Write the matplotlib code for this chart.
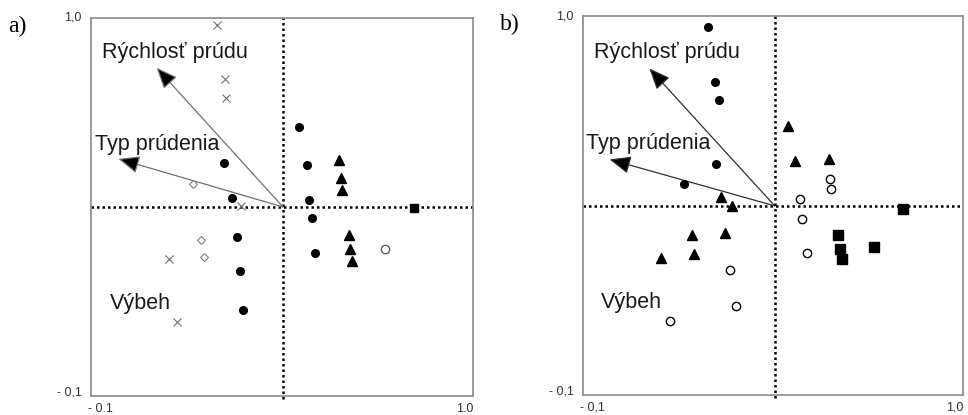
import matplotlib.pyplot as plt
from matplotlib.patches import FancyArrowPatch

# ==============================
# DATA
# ==============================

# panel a)
a_origin = (0.453, 0.450)
a_cross_x = [0.263, 0.286, 0.290, 0.333, 0.124, 0.149]
a_cross_y = [0.978, 0.821, 0.767, 0.453, 0.299, 0.116]
a_diamond_x = [0.195, 0.217, 0.226]
a_diamond_y = [0.516, 0.354, 0.305]
a_dot_x = [0.284, 0.305, 0.320, 0.328, 0.338, 0.498, 0.521, 0.528, 0.537, 0.546]
a_dot_y = [0.578, 0.477, 0.364, 0.263, 0.151, 0.682, 0.571, 0.469, 0.418, 0.315]
a_tri_x = [0.615, 0.620, 0.623, 0.644, 0.647, 0.652]
a_tri_y = [0.588, 0.533, 0.500, 0.368, 0.328, 0.292]
a_ring_x = [0.747]
a_ring_y = [0.329]
a_sq_x = [0.830]
a_sq_y = [0.446]
a_arrow_x = [0.089, -0.021]
a_arrow_y = [0.855, 0.590]

# panel b)
b_origin = (0.455, 0.449)
b_dot_x = [0.262, 0.283, 0.293, 0.284, 0.193]
b_dot_y = [0.967, 0.809, 0.756, 0.572, 0.514]
b_tri_x = [0.494, 0.513, 0.612, 0.298, 0.332, 0.215, 0.312, 0.221, 0.126]
b_tri_y = [0.682, 0.578, 0.584, 0.476, 0.450, 0.364, 0.371, 0.309, 0.299]
b_ring_x = [0.615, 0.618, 0.529, 0.535, 0.547, 0.325, 0.343, 0.151]
b_ring_y = [0.528, 0.499, 0.468, 0.410, 0.313, 0.263, 0.159, 0.116]
b_sq_x = [0.826, 0.638, 0.645, 0.649, 0.743]
b_sq_y = [0.441, 0.364, 0.324, 0.295, 0.330]
b_arrow_x = [0.092, -0.023]
b_arrow_y = [0.848, 0.584]

# labels of the environmental variables
var_names = ["Rýchlosť prúdu", "Typ prúdenia", "Výbeh"]
a_name_x = [-0.069, -0.088, -0.045]
a_name_y = [0.898, 0.632, 0.170]
b_name_x = [-0.069, -0.090, -0.048]
b_name_y = [0.894, 0.631, 0.168]

a_ticks = ["- 0.1", "1.0", "- 0,1", "1,0"]
b_ticks = ["- 0,1", "1,0", "- 0,1", "1,0"]

plt.rcParams['font.family'] = ['Liberation Sans', 'DejaVu Sans']

fig = plt.figure(figsize=(9.68, 4.15), dpi=100)
ax_a = fig.add_axes([0.0940, 0.0458, 0.3946, 0.911])
ax_b = fig.add_axes([0.6023, 0.0482, 0.3926, 0.913])


def draw_panel(ax, origin, arrows_x, arrows_y, shaft_col, names_x, names_y, ticks, letter):
    ax.set_xlim(-0.1, 1.0)
    ax.set_ylim(-0.1, 1.0)
    ax.set_xticks([])
    ax.set_yticks([])
    for s in ax.spines.values():
        s.set_color("#8a8a8a")
        s.set_linewidth(1.2)

    # dotted axes through the origin
    ax.axhline(origin[1], color="black", lw=1.8, ls=(0, (1, 1.2)), zorder=1)
    ax.plot([origin[0], origin[0]], [-0.11, 1.0], color="black", lw=1.8,
            ls=(0, (1, 1.2)), zorder=1, clip_on=False)

    # arrows
    for tx, ty in zip(arrows_x, arrows_y):
        arr = FancyArrowPatch(posA=origin, posB=(tx, ty),
                              arrowstyle="-|>,head_length=1.0,head_width=0.42",
                              mutation_scale=13, lw=0.9, edgecolor=shaft_col,
                              facecolor="black", shrinkA=0, shrinkB=0, zorder=2)
        ax.add_patch(arr)

    for name, nx, ny in zip(var_names, names_x, names_y):
        ax.text(nx, ny, name, fontsize=15.5, ha="left", va="center",
                color="#1a1a1a", zorder=4)

    # tick labels at the ends only
    ax.text(0.025, -0.018, ticks[0], transform=ax.transAxes, fontsize=9,
            ha="center", va="top", color="#333333")
    ax.text(1.0, -0.018, ticks[1], transform=ax.transAxes, fontsize=9,
            ha="right", va="top", color="#333333")
    ax.text(-0.025, 0.01, ticks[2], transform=ax.transAxes, fontsize=9,
            ha="right", va="center", color="#333333")
    ax.text(-0.025, 1.0, ticks[3], transform=ax.transAxes, fontsize=9,
            ha="right", va="center", color="#333333")

    ax.text(-0.218, 0.978, letter, transform=ax.transAxes, fontsize=17,
            family="Liberation Serif", ha="left", va="center")


draw_panel(ax_a, a_origin, a_arrow_x, a_arrow_y, "#707070",
           a_name_x, a_name_y, a_ticks, "a)")
draw_panel(ax_b, b_origin, b_arrow_x, b_arrow_y, "#303030",
           b_name_x, b_name_y, b_ticks, "b)")

# panel a markers
ax_a.plot(a_cross_x, a_cross_y, "x", color="#707070", ms=6, mew=0.8, ls="none", zorder=3)
ax_a.plot(a_diamond_x, a_diamond_y, "D", mfc="white", mec="#808080", ms=4.5, mew=0.8,
          ls="none", zorder=3)
ax_a.plot(a_dot_x, a_dot_y, "o", color="black", ms=5.5, ls="none", zorder=3)
ax_a.plot(a_tri_x, a_tri_y, "^", color="black", ms=6.5, ls="none", zorder=3)
ax_a.plot(a_ring_x, a_ring_y, "o", mfc="white", mec="#505050", ms=6, mew=0.9,
          ls="none", zorder=3)
ax_a.plot(a_sq_x, a_sq_y, "s", color="black", ms=6, ls="none", zorder=3)

# panel b markers
ax_b.plot(b_dot_x, b_dot_y, "o", color="black", ms=5.5, ls="none", zorder=3)
ax_b.plot(b_tri_x, b_tri_y, "^", color="black", ms=6.5, ls="none", zorder=3)
ax_b.plot(b_ring_x, b_ring_y, "o", mfc="white", mec="black", ms=6, mew=1.0,
          ls="none", zorder=3)
ax_b.plot(b_sq_x, b_sq_y, "s", color="black", ms=6.5, ls="none", zorder=3)

fig.savefig("out.png", dpi=100)
